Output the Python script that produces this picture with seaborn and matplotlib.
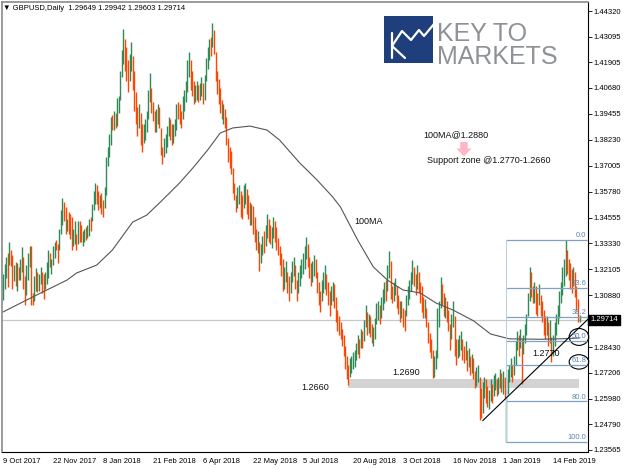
import matplotlib
matplotlib.use("Agg")
import matplotlib.pyplot as plt
import matplotlib.transforms as mtransforms
from matplotlib.patches import Rectangle, Ellipse, Polygon
from matplotlib.lines import Line2D
import numpy as np
import pandas as pd
import seaborn as sns

# ---------------- data ----------------
highs = [
1.3190,1.3235,1.3270,1.3290,1.3338,1.3300,1.3280,1.3230,1.3245,1.3240,
1.3220,1.3260,1.3316,1.3270,1.3180,1.3230,1.3290,1.3320,1.3320,1.3100,
1.3180,1.3215,1.3200,1.3190,1.3220,1.3200,1.3190,1.3200,1.3245,1.3300,
1.3290,1.3260,1.3320,1.3340,1.3350,1.3330,1.3400,1.3490,1.3548,1.3530,
1.3505,1.3450,1.3480,1.3470,1.3460,1.3400,1.3440,1.3380,1.3440,1.3440,
1.3420,1.3390,1.3400,1.3410,1.3420,1.3450,1.3460,1.3520,1.3580,1.3620,
1.3610,1.3580,1.3560,1.3570,1.3540,1.3600,1.3740,1.3790,1.3850,1.3930,
1.3940,1.3960,1.3950,1.4020,1.4030,1.4150,1.4250,1.4345,1.4300,1.4260,
1.4200,1.4230,1.4285,1.4220,1.4150,1.4050,1.3980,1.3990,1.3950,1.3900,
1.3900,1.3920,1.3960,1.4060,1.4140,1.4070,1.4000,1.3960,1.3970,1.3990,
1.3980,1.3880,1.3790,1.3830,1.3850,1.3890,1.3930,1.3920,1.3900,1.3900,
1.3920,1.3990,1.4000,1.3990,1.3960,1.4030,1.4060,1.4100,1.4200,1.4238,
1.4200,1.4150,1.4100,1.4080,1.4100,1.4080,1.4090,1.4120,1.4090,1.4130,
1.4210,1.4260,1.4300,1.4310,1.4377,1.4340,1.4240,1.4150,1.4110,1.4070,
1.4010,1.3990,1.3970,1.3930,1.3830,1.3790,1.3770,1.3690,1.3620,1.3560,
1.3600,1.3610,1.3580,1.3560,1.3610,1.3620,1.3590,1.3560,1.3530,1.3520,
1.3510,1.3460,1.3400,1.3390,1.3340,1.3330,1.3370,1.3390,1.3420,1.3470,
1.3450,1.3420,1.3410,1.3460,1.3440,1.3410,1.3360,1.3320,1.3290,1.3260,
1.3220,1.3250,1.3200,1.3180,1.3200,1.3250,1.3270,1.3230,1.3160,1.3200,
1.3230,1.3260,1.3290,1.3320,1.3363,1.3330,1.3270,1.3240,1.3250,1.3280,
1.3260,1.3200,1.3150,1.3110,1.3160,1.3200,1.3230,1.3190,1.3150,1.3110,
1.3130,1.3150,1.3140,1.3080,1.3020,1.2990,1.2960,1.2930,1.2900,1.2850,
1.2800,1.2760,1.2790,1.2800,1.2820,1.2830,1.2860,1.2900,1.2880,1.2930,
1.2920,1.2970,1.3040,1.3010,1.3000,1.2990,1.2950,1.2940,1.2980,1.3050,
1.3060,1.3040,1.3080,1.3120,1.3150,1.3160,1.3230,1.3297,1.3250,1.3130,
1.3150,1.3170,1.3130,1.3090,1.3060,1.3060,1.3030,1.3020,1.3090,1.3130,
1.3160,1.3200,1.3255,1.3220,1.3190,1.3230,1.3200,1.3150,1.3130,1.3080,
1.3070,1.3030,1.2960,1.2910,1.2880,1.2830,1.2800,1.2830,1.3030,1.3060,
1.3175,1.3140,1.3100,1.3080,1.3060,1.3020,1.2950,1.3000,1.3060,1.2990,
1.2880,1.2880,1.2900,1.2920,1.2880,1.2850,1.2870,1.2830,1.2840,1.2800,
1.2810,1.2790,1.2730,1.2750,1.2760,1.2700,1.2650,1.2680,1.2700,1.2690,
1.2660,1.2640,1.2690,1.2670,1.2710,1.2720,1.2690,1.2700,1.2740,1.2720,
1.2730,1.2700,1.2640,1.2740,1.2760,1.2790,1.2760,1.2800,1.2870,1.2920,
1.2900,1.2930,1.2880,1.2900,1.2950,1.3000,1.3100,1.3221,1.3200,1.3130,
1.3150,1.3130,1.3100,1.3140,1.3090,1.3060,1.3020,1.2990,1.2990,1.2960,
1.2970,1.2890,1.2900,1.2960,1.3000,1.3040,1.3110,1.3150,1.3220,1.3260,
1.3349,1.3300,1.3260,1.3240,1.3210,1.3220,1.3200,1.3130,1.3070,1.2994,
]
lows = [
1.3066,1.3120,1.3170,1.3125,1.3230,1.3225,1.3120,1.3155,1.3130,1.3110,
1.3160,1.3160,1.3200,1.3120,1.3040,1.3090,1.3160,1.3220,1.3040,1.3040,
1.3060,1.3110,1.3105,1.3110,1.3140,1.3100,1.3070,1.3120,1.3140,1.3170,
1.3220,1.3190,1.3230,1.3265,1.3300,1.3240,1.3300,1.3380,1.3420,1.3440,
1.3380,1.3390,1.3380,1.3355,1.3300,1.3320,1.3330,1.3300,1.3330,1.3340,
1.3340,1.3320,1.3340,1.3350,1.3360,1.3370,1.3390,1.3440,1.3490,1.3520,
1.3520,1.3490,1.3500,1.3470,1.3458,1.3500,1.3560,1.3700,1.3740,1.3800,
1.3870,1.3870,1.3880,1.3890,1.3950,1.4010,1.4120,1.4180,1.4150,1.4100,
1.4050,1.4100,1.4150,1.4060,1.3960,1.3900,1.3840,1.3880,1.3800,1.3765,
1.3810,1.3820,1.3860,1.3920,1.4000,1.3950,1.3910,1.3860,1.3860,1.3900,
1.3880,1.3750,1.3710,1.3740,1.3760,1.3790,1.3840,1.3820,1.3800,1.3810,
1.3840,1.3870,1.3920,1.3900,1.3880,1.3920,1.3960,1.4000,1.4050,1.4120,
1.4060,1.4030,1.3990,1.4000,1.4010,1.4000,1.4010,1.4030,1.3990,1.4010,
1.4100,1.4160,1.4200,1.4220,1.4260,1.4230,1.4100,1.4040,1.3990,1.3950,
1.3920,1.3900,1.3880,1.3800,1.3720,1.3690,1.3660,1.3570,1.3540,1.3480,
1.3500,1.3520,1.3460,1.3450,1.3500,1.3520,1.3470,1.3450,1.3420,1.3420,
1.3380,1.3340,1.3300,1.3290,1.3205,1.3240,1.3280,1.3290,1.3320,1.3360,
1.3340,1.3330,1.3310,1.3360,1.3340,1.3300,1.3280,1.3230,1.3180,1.3110,
1.3120,1.3150,1.3100,1.3060,1.3100,1.3150,1.3180,1.3120,1.3060,1.3100,
1.3130,1.3170,1.3190,1.3210,1.3260,1.3220,1.3170,1.3130,1.3150,1.3180,
1.3170,1.3100,1.3040,1.3010,1.3060,1.3100,1.3120,1.3090,1.3040,1.2990,
1.3040,1.3060,1.3030,1.2960,1.2920,1.2900,1.2880,1.2850,1.2800,1.2740,
1.2690,1.2664,1.2700,1.2720,1.2740,1.2750,1.2780,1.2810,1.2790,1.2840,
1.2840,1.2870,1.2940,1.2900,1.2910,1.2890,1.2860,1.2850,1.2880,1.2950,
1.2970,1.2950,1.2980,1.3020,1.3050,1.3060,1.3110,1.3170,1.3070,1.3050,
1.3060,1.3090,1.3030,1.3000,1.2960,1.2980,1.2940,1.2920,1.2990,1.3040,
1.3070,1.3110,1.3140,1.3130,1.3090,1.3120,1.3100,1.3050,1.3010,1.2980,
1.2980,1.2940,1.2860,1.2820,1.2790,1.2695,1.2700,1.2740,1.2790,1.2940,
1.3030,1.3040,1.2990,1.2980,1.2960,1.2920,1.2830,1.2880,1.2940,1.2800,
1.2760,1.2790,1.2800,1.2830,1.2780,1.2770,1.2780,1.2730,1.2750,1.2710,
1.2720,1.2690,1.2650,1.2660,1.2680,1.2500,1.2510,1.2530,1.2600,1.2580,
1.2560,1.2550,1.2590,1.2580,1.2610,1.2640,1.2610,1.2620,1.2650,1.2630,
1.2620,1.2600,1.2394,1.2620,1.2680,1.2700,1.2680,1.2710,1.2760,1.2830,
1.2800,1.2840,1.2670,1.2810,1.2860,1.2900,1.2990,1.3060,1.3080,1.3050,
1.3050,1.3000,1.2990,1.3040,1.2990,1.2960,1.2900,1.2880,1.2900,1.2850,
1.2860,1.2773,1.2800,1.2850,1.2900,1.2950,1.2980,1.3050,1.3090,1.3130,
1.3180,1.3190,1.3160,1.3120,1.3100,1.3130,1.3080,1.3020,1.2960,1.2960,
]
directions = (
"uuududdudu" "duudduuudd" "uuduudduuu" "duuudduuud" "duddduudud"
"duuduuduuu" "ddudduuuuu" "duduuuuudd" "duuddddudd" "uuuuuddduu"
"ddduuuuddu" "uuddduuuuu" "ddduuduudu" "uuududdddd" "dudddddddd"
"uudduudddu" "ddduduuduu" "dduudddddd" "uudduuuddu" "uuuuuddduu"
"dddduuuddd" "uudddddddd" "dduuuuuudu" "duududduuu" "uduuuduudd"
"uudddudduu" "uuuddudddd" "uddddduuuu" "udduddduud" "duuuddudud"
"udduudduud" "duuduuduud" "uduuuuduuu" "duduuuuudd" "udduddddud"
"uduuuuuuuu" "uddddudddu"
)

ma_bar = [0, 19, 41, 47, 60, 70, 83, 92, 102, 113, 122, 131, 139, 147, 158,
          169, 177, 190, 201, 211, 216, 227, 237, 246, 256, 267, 277, 288,
          301, 312, 324, 344, 356, 369]
ma_val = [1.3009, 1.3080, 1.3160, 1.3193, 1.3231, 1.3302, 1.3434, 1.3467,
          1.3538, 1.3619, 1.3694, 1.3775, 1.3855, 1.3879, 1.3888, 1.3869,
          1.3822, 1.3713, 1.3633, 1.3553, 1.3505, 1.3349, 1.3222, 1.3160,
          1.3113, 1.3099, 1.3052, 1.3018, 1.2968, 1.2905, 1.2882, 1.2880,
          1.2882, 1.2886]

date_labels = ["9 Oct 2017", "22 Nov 2017", "8 Jan 2018", "21 Feb 2018",
               "6 Apr 2018", "22 May 2018", "5 Jul 2018", "20 Aug 2018",
               "3 Oct 2018", "16 Nov 2018", "1 Jan 2019", "14 Feb 2019"]
date_bars = [0, 32, 64, 96, 128, 160, 192, 224, 256, 288, 320, 352]

price_ticks = [1.44320, 1.43095, 1.41905, 1.40680, 1.39455, 1.38230, 1.37005,
               1.35780, 1.34555, 1.33330, 1.32105, 1.30880, 1.28430, 1.27206,
               1.25980, 1.24790, 1.23565]

last_price = 1.29714
fib_ratios = [0.0, 23.6, 38.2, 50.0, 61.8, 80.0, 100.0]
fib_high, fib_low = 1.3350, 1.2395
fib_start_bar = 322
zone_low, zone_high = 1.2650, 1.2692
zone_start_bar = 220.5
zone_end_bar = 368.7
trend_bars = [307, 374.4]
trend_prices = [1.2495, 1.2975]

# ---------------- figure ----------------
sns.set_style("white")
plt.rcParams['font.family'] = ['Liberation Sans', 'DejaVu Sans']

W, H = 625, 469
fig = plt.figure(figsize=(W / 100, H / 100), dpi=100)
fig.patch.set_facecolor("white")
ax = fig.add_axes([2 / W, 1 - 452 / H, 586 / W, 450 / H])
ax.set_facecolor("white")

n = len(highs)
idx = np.arange(n)
df = pd.DataFrame({"bar": idx, "high": highs, "low": lows,
                   "dir": list(directions[:n])})
green, red = "#2e8b57", "#ff4500"
cols = [green if d == "u" else red for d in df["dir"]]
ax.vlines(df["bar"], df["low"], df["high"], colors=cols, lw=1.0)

# moving average
sns.lineplot(x=ma_bar, y=ma_val, ax=ax, color="#555555", lw=0.8)

# current price line
ax.axhline(last_price, color="#c8c8c8", lw=0.9, zorder=0.5)

# support zone
ax.add_patch(Rectangle((zone_start_bar, zone_low), zone_end_bar - zone_start_bar,
                       zone_high - zone_low, fc="#d3d3d3", ec="none", zorder=1.5))

# fibonacci
fib_prices = [fib_high - r / 100 * (fib_high - fib_low) for r in fib_ratios]
ax.hlines(fib_prices, fib_start_bar, 373.6, color="#7fa1c6", lw=0.9)
ax.vlines([fib_start_bar], fib_low, fib_high, color="#bdd0e3", lw=0.8)
for r, p in zip(fib_ratios, fib_prices):
    ax.text(373.4, p + 0.0004, f"{r:.1f}", ha="right", va="bottom",
            color="#5a86b6", fontsize=5.5)

# trend line
ax.plot(trend_bars, trend_prices, color="black", lw=0.8, clip_on=False)

# circles
ax.add_patch(Ellipse((368.6, 1.2891), 12.5, 0.0080, fill=False, ec="black", lw=0.8, clip_on=False))
ax.add_patch(Ellipse((368.6, 1.2773), 12.5, 0.0068, fill=False, ec="black", lw=0.8, clip_on=False))

# annotations
ax.text(199.7, 1.2654, "1.2660", fontsize=6.5, ha="center", va="center", color="#111111")
ax.text(258, 1.2725, "1.2690", fontsize=6.5, ha="center", va="center", color="#111111")
ax.text(347.5, 1.2812, "1.2770", fontsize=6.5, ha="center", va="center", color="#111111")
ax.text(234, 1.3439, "100MA", fontsize=6.5, ha="center", va="center", color="#111111")
ax.text(268.8, 1.3846, "100MA@1.2880", fontsize=6.5, ha="left", va="center", color="#111111")
ax.text(271.4, 1.3723, "Support zone @1.2770-1.2660", fontsize=6.5, ha="left", va="center", color="#111111")
ac = 295
ax.add_patch(Polygon([(ac - 2.4, 1.3813), (ac + 2.4, 1.3813), (ac + 2.4, 1.3782),
                      (ac + 4.9, 1.3782), (ac, 1.3744), (ac - 4.9, 1.3782),
                      (ac - 2.4, 1.3782)], closed=True, fc="#ffb7c8", ec="none"))

# axes
ax.set_xlim(-0.64, 374.4)
ax.set_ylim(1.23470, 1.44746)
ax.yaxis.tick_right()
ax.set_yticks(price_ticks)
ax.set_yticklabels([f"{t:.5f}" for t in price_ticks], fontsize=5.5)
ax.set_xticks(date_bars)
ax.set_xticklabels(date_labels, fontsize=5.5, ha="left")
ax.tick_params(axis="y", direction="out", length=3, width=0.6, pad=1, colors="black")
ax.tick_params(axis="x", direction="out", length=3, width=0.6, pad=1.5, colors="black")
ax.set_xlabel("")
ax.set_ylabel("")
for s in ["right", "bottom"]:
    ax.spines[s].set_color("black")
    ax.spines[s].set_linewidth(0.8)
for s in ["top", "left"]:
    ax.spines[s].set_color("#8a8a8a")
    ax.spines[s].set_linewidth(1.2)
ax.grid(False)

# price box
tr = mtransforms.blended_transform_factory(ax.transAxes, ax.transData)
ax.text(1.004, last_price, "1.29714", transform=tr, color="white", fontsize=5.5,
        ha="left", va="center", clip_on=False,
        bbox=dict(boxstyle="square,pad=0.25", fc="black", ec="black"))

# title
fig.text(3 / W, 1 - 9 / H, "\u25bc GBPUSD,Daily  1.29649 1.29942 1.29603 1.29714",
         fontsize=5.5, va="center", ha="left", color="black")

# logo
def px(x, y):
    return (x / W, 1 - y / H)

fig.patches.append(Rectangle(px(384, 63), 49 / W, 47 / H, transform=fig.transFigure,
                             fc="#1e3f7c", ec="none"))
kx, ky = zip(*[px(392, 33), px(392, 58)])
fig.lines.append(Line2D(kx, ky, transform=fig.transFigure, color="white", lw=1.6))
kx, ky = zip(*[px(392, 46), px(405, 58)])
fig.lines.append(Line2D(kx, ky, transform=fig.transFigure, color="white", lw=1.6))
kx, ky = zip(*[px(392, 46), px(402, 31), px(411, 40), px(419, 30), px(424, 36), px(434, 24)])
fig.lines.append(Line2D(kx, ky, transform=fig.transFigure, color="white", lw=1.6))
fig.text(*px(437, 64), "KEY TO\nMARKETS", fontsize=18, color="#8e9196", ha="left",
         va="baseline", linespacing=0.95, multialignment="left")

fig.savefig("out.png", dpi=100, facecolor="white")
